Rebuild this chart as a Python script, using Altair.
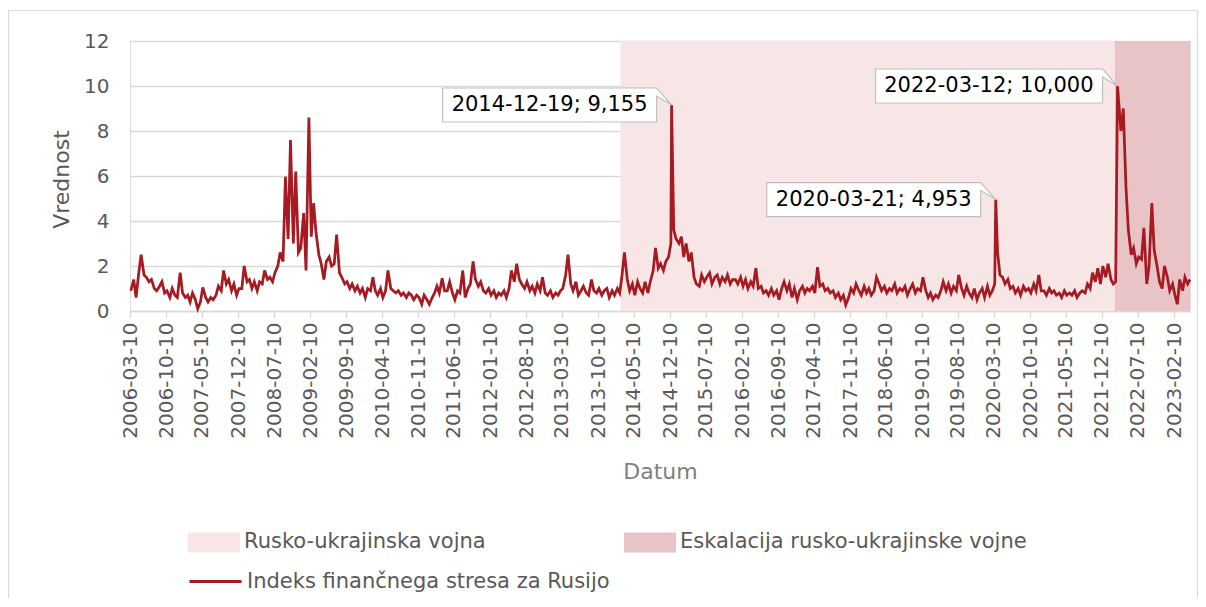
import altair as alt
import pandas as pd

# ---- data (semi-monthly readings of the index, 1st and 15th of each month) ----
v2006 = [0.9, 1.4, 0.6, 1.7, 2.5, 1.6, 1.5, 1.3, 1.4, 1.0, 0.9, 1.1, 1.3, 0.8, 0.9, 0.6, 1.0, 0.7, 0.6]  # from 2006-03-15
v2007 = [1.7, 0.8, 0.6, 0.7, 0.4, 0.8, 0.5, 0.1, 0.4, 1.05, 0.6, 0.4, 0.6, 0.5, 0.7, 1.1, 0.9, 1.8, 1.2, 1.4, 0.9, 1.2, 0.7, 1.0]
v2008 = [1.0, 2.0, 1.3, 1.4, 1.0, 1.3, 0.9, 1.3, 1.2, 1.8, 1.4, 1.5, 1.3, 1.7, 2.0, 2.6, 2.2, 5.97, 3.2, 7.6, 3.0, 6.2, 2.6, 2.8]
v2009 = [4.35, 1.8, 8.6, 3.3, 4.8, 3.5, 2.5, 2.1, 1.4, 2.2, 2.4, 2.0, 2.1, 3.4, 1.7, 1.5, 1.2, 1.3, 1.0, 1.2, 0.9, 1.1, 0.8, 1.0]
v2010 = [0.6, 1.0, 0.9, 1.5, 0.9, 0.7, 1.0, 0.6, 0.9, 1.8, 1.0, 0.9, 0.8, 0.9, 0.7, 0.8, 0.6, 0.8, 0.7, 0.5, 0.7, 0.6, 0.3, 0.7]
v2011 = [0.5, 0.3, 0.6, 0.8, 1.1, 0.8, 1.45, 0.9, 0.9, 1.3, 0.8, 0.5, 0.9, 0.8, 1.8, 0.6, 1.0, 1.2, 2.2, 1.4, 1.1, 1.3, 0.9, 0.8]
v2012 = [1.0, 0.7, 0.9, 0.6, 0.8, 0.7, 0.9, 0.6, 1.0, 1.8, 1.3, 2.1, 1.4, 1.2, 1.0, 1.3, 0.9, 1.1, 0.8, 1.2, 0.9, 1.5, 0.8, 0.7]
v2013 = [0.9, 0.6, 0.8, 0.7, 0.9, 1.0, 1.6, 2.5, 1.2, 0.9, 1.3, 0.7, 0.9, 1.1, 0.8, 0.7, 1.4, 0.9, 0.8, 1.0, 0.7, 0.9, 1.0, 0.6]
v2014 = [0.9, 0.7, 1.0, 0.8, 1.6, 2.6, 1.4, 0.9, 1.2, 0.7, 1.3, 1.0, 0.8, 1.3, 0.8, 1.3, 1.8, 2.8, 1.9, 2.1, 1.8, 2.2, 2.4, 3.0]
v2015 = [3.6, 3.2, 3.0, 3.3, 2.4, 3.0, 2.2, 2.6, 1.5, 1.2, 1.1, 1.6, 1.3, 1.5, 1.7, 1.2, 1.5, 1.6, 1.2, 1.5, 1.3, 1.6, 1.2, 1.4]
v2016 = [1.4, 1.2, 1.5, 1.1, 1.4, 1.0, 1.3, 1.1, 1.9, 1.0, 1.1, 0.8, 0.9, 0.7, 1.0, 0.7, 0.9, 0.5, 1.0, 1.3, 0.9, 1.2, 0.6, 1.0]
v2017 = [0.5, 0.9, 1.1, 0.8, 1.0, 0.9, 1.1, 0.8, 1.95, 1.1, 1.2, 0.9, 1.0, 0.8, 0.9, 0.6, 0.8, 0.5, 0.7, 0.27, 0.6, 1.0, 0.8, 1.2]
v2018 = [0.9, 0.7, 1.1, 0.8, 1.0, 0.7, 0.9, 1.5, 1.2, 0.9, 1.1, 0.8, 1.0, 0.9, 1.2, 0.8, 1.0, 0.9, 1.1, 0.7, 1.0, 1.2, 0.8, 1.0]
v2019 = [0.9, 1.5, 0.9, 0.6, 0.8, 0.5, 0.7, 0.6, 0.9, 1.3, 0.9, 1.2, 0.8, 1.1, 0.9, 1.6, 1.0, 0.7, 1.1, 0.8, 0.6, 1.0, 0.5, 0.8]
v2020 = [1.0, 0.6, 1.1, 0.7, 0.9, 1.2, 2.6, 1.6, 1.5, 1.2, 1.4, 1.0, 1.1, 0.8, 1.0, 0.7, 1.1, 0.9, 1.0, 0.8, 1.2, 0.9, 1.6, 0.9]
v2021 = [0.9, 0.7, 1.0, 0.8, 0.9, 0.7, 0.8, 0.6, 0.9, 0.7, 0.8, 0.7, 0.9, 0.6, 0.8, 0.9, 0.8, 1.2, 1.0, 1.7, 1.3, 1.9, 1.2, 2.0]
v2022 = [1.5, 2.1, 1.4, 1.2, 1.3, 9.7, 8.0, 9.0, 5.5, 3.6, 2.5, 2.8, 2.1, 2.4, 2.3, 3.7, 1.2, 2.0, 4.8, 2.7, 2.0, 1.3, 1.0, 2.0]
v2023 = [1.5, 0.9, 1.2, 0.7, 0.3, 1.4, 0.9, 1.5, 1.2, 1.4]

peak_dates = ["2014-12-19", "2020-03-21", "2022-03-12"]
peak_values = [9.155, 4.953, 10.0]
peak_labels = ["2014-12-19; 9,155", "2020-03-21; 4,953", "2022-03-12; 10,000"]

period_names = ["Rusko-ukrajinska vojna", "Eskalacija rusko-ukrajinske vojne"]
period_starts = ["2014-02-20", "2022-02-24"]
period_ends = ["2022-02-24", "2023-05-15"]

line_name = "Indeks finančnega stresa za Rusijo"

tick_labels = [
    "2006-03-10", "2006-10-10", "2007-05-10", "2007-12-10", "2008-07-10", "2009-02-10",
    "2009-09-10", "2010-04-10", "2010-11-10", "2011-06-10", "2012-01-10", "2012-08-10",
    "2013-03-10", "2013-10-10", "2014-05-10", "2014-12-10", "2015-07-10", "2016-02-10",
    "2016-09-10", "2017-04-10", "2017-11-10", "2018-06-10", "2019-01-10", "2019-08-10",
    "2020-03-10", "2020-10-10", "2021-05-10", "2021-12-10", "2022-07-10", "2023-02-10",
]
x_domain = ["2006-03-10", "2023-05-15"]
y_ticks = [0, 2, 4, 6, 8, 10, 12]

# ---- build tables ----
years = {2006: v2006, 2007: v2007, 2008: v2008, 2009: v2009, 2010: v2010, 2011: v2011,
         2012: v2012, 2013: v2013, 2014: v2014, 2015: v2015, 2016: v2016, 2017: v2017,
         2018: v2018, 2019: v2019, 2020: v2020, 2021: v2021, 2022: v2022, 2023: v2023}
rows = []
for yr, vals in years.items():
    start = "2006-03-15" if yr == 2006 else f"{yr}-01-01"
    for d, v in zip(pd.date_range(start, periods=len(vals), freq="SMS"), vals):
        rows.append((d, v))
for d, v in zip(peak_dates, peak_values):
    rows.append((pd.Timestamp(d), v))
df = pd.DataFrame(rows, columns=["date", "value"]).sort_values("date")
df["date"] = df["date"].dt.strftime("%Y-%m-%d")
df["series"] = line_name

periods = pd.DataFrame({"period": period_names, "start": period_starts, "end": period_ends})


def ms(s):
    return int(pd.Timestamp(s).timestamp() * 1000)


LIGHT = "#f8e6e7"
DARK = "#e8c4c7"
RED = "#a51b21"
GRID = "#d9d9d9"
TXT = "#595959"
FONT = "DejaVu Sans"

xscale = alt.Scale(type="utc", domain=[ms(x_domain[0]), ms(x_domain[1])], nice=False)
xaxis = alt.Axis(
    values=[ms(t) for t in tick_labels], format="%Y-%m-%d", labelAngle=-90,
    labelAlign="right", labelBaseline="middle", labelFontSize=20, labelColor=TXT,
    labelFont=FONT, labelPadding=5, labelOverlap=False, labelFlush=False,
    tickSize=6, tickColor=GRID, tickWidth=1.5, domainColor=GRID, domainWidth=1.5,
    grid=False, title="Datum", titleFontSize=22, titleColor="#7f7f7f",
    titleFontWeight="normal", titleFont=FONT, titleX=530, titleY=167,
    titleBaseline="alphabetic", titleAlign="center",
)
yscale = alt.Scale(domain=[0, 12], nice=False)
yaxis = alt.Axis(
    values=y_ticks, labelFontSize=20, labelColor=TXT, labelFont=FONT, labelPadding=21,
    ticks=False, tickSize=0, domain=False, grid=True, gridColor=GRID, gridWidth=1.5,
    title="Vrednost", titleFontSize=22, titleColor=TXT, titleFontWeight="normal",
    titleFont=FONT, titleX=-62, titleY=138, titleAngle=-90, titleAlign="center",
    titleBaseline="alphabetic",
)

rect_sym = "M-1,-0.385H1V0.385H-1Z"

shade = alt.Chart(periods).mark_rect(opacity=1).encode(
    x=alt.X("start:T", scale=xscale, axis=xaxis),
    x2="end:T",
    fill=alt.Fill(
        "period:N",
        scale=alt.Scale(domain=period_names, range=[LIGHT, DARK]),
        legend=alt.Legend(
            orient="none", legendX=58, legendY=475, columns=2, columnPadding=138,
            title=None, symbolType=rect_sym, symbolSize=2704, symbolStrokeWidth=0,
            symbolOpacity=1, labelFontSize=21, labelColor=TXT, labelFont=FONT,
            labelOffset=4, labelLimit=800, padding=0,
        ),
    ),
)

line = alt.Chart(df).mark_line(strokeWidth=2.75, interpolate="linear").encode(
    x=alt.X("date:T", scale=xscale, axis=xaxis),
    y=alt.Y("value:Q", scale=yscale, axis=yaxis),
    stroke=alt.Stroke(
        "series:N",
        scale=alt.Scale(domain=[line_name], range=[RED]),
        legend=alt.Legend(
            orient="none", legendX=58, legendY=513, title=None, symbolType="stroke",
            symbolSize=2704, symbolStrokeWidth=3, labelFontSize=21, labelColor=TXT,
            labelFont=FONT, labelOffset=4, labelLimit=800, padding=0,
        ),
    ),
)

layers = [shade, line]
box_widths = [214, 214, 227]
for d, v, lab, w in zip(peak_dates, peak_values, peak_labels, box_widths):
    one = pd.DataFrame({"date": [d], "value": [v], "label": [lab]})
    path = f"M{-15 - w},-17H-15L0,0L-15,-9V17H{-15 - w}Z"
    box = alt.Chart(one).mark_point(
        shape=path, size=4, filled=True, fill="white", stroke="#bfbfbf",
        strokeWidth=1.2, opacity=1, fillOpacity=1, strokeOpacity=1,
    ).encode(
        x=alt.X("date:T", scale=xscale, axis=xaxis),
        y=alt.Y("value:Q", scale=yscale, axis=yaxis),
    )
    txt = alt.Chart(one).mark_text(
        align="right", baseline="middle", dx=-24, fontSize=21, font=FONT, color="#000000",
    ).encode(
        x=alt.X("date:T", scale=xscale, axis=xaxis),
        y=alt.Y("value:Q", scale=yscale, axis=yaxis),
        text="label:N",
    )
    layers += [box, txt]

border = alt.Chart(pd.DataFrame({"a": [0]})).mark_rect(
    fill="transparent", stroke=GRID, strokeWidth=1.2, clip=False,
).encode(
    x=alt.value(-121.5), x2=alt.value(1067.5), y=alt.value(-30.5), y2=alt.value(700),
)
layers.append(border)

chart = alt.layer(*layers).properties(
    width=1060, height=270,
    autosize=alt.AutoSizeParams(type="none"),
    padding={"left": 122, "top": 33, "right": 8, "bottom": 287},
).configure_view(stroke=None).configure(font=FONT, background="white")

chart.save("out.html", embed_options={"renderer": "svg", "actions": False})
